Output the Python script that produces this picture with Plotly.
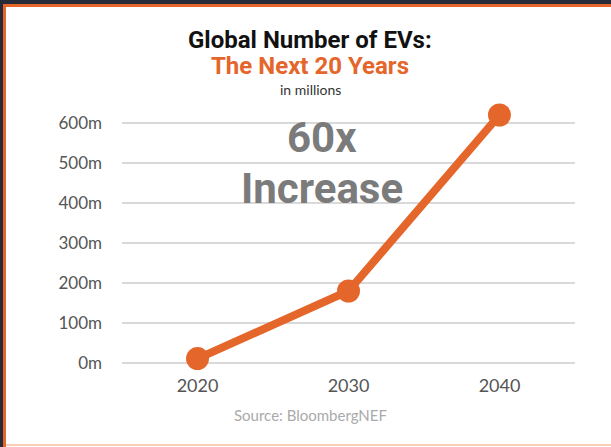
import plotly.graph_objects as go

years = [2020, 2030, 2040]
evs_millions = [11, 180, 620]
y_ticks = [0, 100, 200, 300, 400, 500, 600]
y_tick_labels = ["0m", "100m", "200m", "300m", "400m", "500m", "600m"]
x_ticks = [2020, 2030, 2040]
x_tick_labels = ["2020", "2030", "2040"]

W, H = 611, 447
L, R, T, B = 122, 36, 103, 74
PW, PH = W - L - R, H - T - B

def px(x):
    return (x - L) / PW

def py(y):
    return (H - B - y) / PH

ORANGE = "#e5662b"
DARK = "#252b39"

fig = go.Figure()
fig.add_trace(go.Scatter(
    x=years, y=evs_millions, mode="lines+markers",
    line=dict(color=ORANGE, width=8),
    marker=dict(color=ORANGE, size=23),
    hoverinfo="skip", showlegend=False, cliponaxis=False,
))

title_font = "Roboto, sans-serif"
annos = [
    dict(text="<b>Global Number of EVs:</b>", x=px(310), y=py(40), size=24, color="#111111", family=title_font),
    dict(text="<b>The Next 20 Years</b>", x=px(310), y=py(66), size=24, color=ORANGE, family=title_font),
    dict(text="in millions", x=px(310), y=py(89), size=14, color="#333333", family="Lato, sans-serif"),
    dict(text="<b>60x</b>", x=px(322), y=py(137), size=42, color="#7b7b7b", family=title_font),
    dict(text="<b>Increase</b>", x=px(322), y=py(188), size=42, color="#7b7b7b", family=title_font),
    dict(text="Source: BloombergNEF", x=px(310), y=py(415), size=15, color="#aaaaaa", family="Lato, sans-serif"),
]
for a in annos:
    fig.add_annotation(text=a["text"], x=a["x"], y=a["y"], xref="paper", yref="paper",
                       xanchor="center", yanchor="middle", showarrow=False,
                       font=dict(size=a["size"], color=a["color"], family=a["family"]))

shapes = [
    dict(x0=px(0), x1=px(W), y0=py(0), y1=py(4), color=DARK),
    dict(x0=px(0), x1=px(3), y0=py(0), y1=py(H), color=DARK),
    dict(x0=px(3), x1=px(W), y0=py(4), y1=py(7), color=ORANGE),
    dict(x0=px(3), x1=px(6), y0=py(4), y1=py(H), color=ORANGE),
    dict(x0=px(6), x1=px(W), y0=py(444), y1=py(446), color="#f8cdb3"),
]
for s in shapes:
    fig.add_shape(type="rect", xref="paper", yref="paper",
                  x0=s["x0"], x1=s["x1"], y0=s["y0"], y1=s["y1"],
                  fillcolor=s["color"], line=dict(width=0), layer="above")

fig.update_layout(
    width=W, height=H,
    margin=dict(l=L, r=R, t=T, b=B),
    paper_bgcolor="white", plot_bgcolor="white",
    font=dict(family="Lato, sans-serif", color="#555555", size=16),
)
fig.update_xaxes(range=[2015, 2045], tickvals=x_ticks, ticktext=x_tick_labels,
                 showgrid=False, zeroline=False, showline=False, ticks="",
                 tickfont=dict(size=18, color="#555555"), ticklabelstandoff=0)
fig.update_yaxes(range=[-25, 650], tickvals=y_ticks, ticktext=y_tick_labels,
                 showgrid=True, gridcolor="#d9d9d9", gridwidth=2, zeroline=False,
                 showline=False, ticks="", tickfont=dict(size=17, color="#555555"),
                 ticklabelstandoff=19)

fig.write_html("out.html", config={"displayModeBar": False},
               post_script="document.body.style.margin='0';document.body.style.overflow='hidden';")
